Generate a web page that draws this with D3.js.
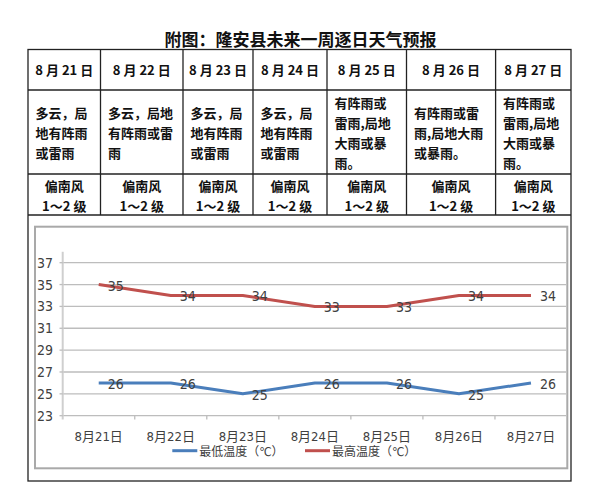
<!DOCTYPE html>
<html><head><meta charset="utf-8">
<script src="https://cdn.jsdelivr.net/npm/d3@7/dist/d3.min.js"></script>
<style>
html,body{margin:0;padding:0;background:#fff;}
svg{display:block;}
</style>
</head><body>
<svg id="c" width="604" height="500"></svg>
<script>
// ---------- data ----------
const dates = ["8月21日","8月22日","8月23日","8月24日","8月25日","8月26日","8月27日"];
const weather = [
  ["多云，局","地有阵雨","或雷雨"],
  ["多云，局地","有阵雨或雷","雨"],
  ["多云，局","地有阵雨","或雷雨"],
  ["多云，局","地有阵雨","或雷雨"],
  ["有阵雨或","雷雨,局地","大雨或暴","雨。"],
  ["有阵雨或雷","雨,局地大雨","或暴雨。"],
  ["有阵雨或","雷雨,局地","大雨或暴","雨。"]
];
const windDir = ["偏南风","偏南风","偏南风","偏南风","偏南风","偏南风","偏南风"];
const windLevel = ["1～2 级","1～2 级","1～2 级","1～2 级","1～2 级","1～2 级","1～2 级"];
const lowTemps = [26,26,25,26,26,25,26];
const highTemps = [35,34,34,33,33,34,34];
const yTicks = [23,25,27,29,31,33,35,37];
const seriesNames = ["最低温度（℃）","最高温度（℃）"];
const title = "附图：隆安县未来一周逐日天气预报";

// ---------- layout ----------
const svg = d3.select("#c");
const colEdges = [28,100.5,183,253,327,406.5,495.6,571];
const rowEdges = [49.5,90,174,215,481];
const cjk = "'Noto Sans CJK SC','Noto Sans',sans-serif";
const narrow = "'Liberation Sans Narrow','DejaVu Sans Condensed','Noto Sans CJK SC',sans-serif";

// title
svg.append("text").attr("x",300.5).attr("y",38).attr("text-anchor","middle")
  .attr("dominant-baseline","central").attr("font-family",cjk).attr("font-weight","bold")
  .attr("font-size",17).attr("fill","#111").text(title);

// table lines
const tbl = svg.append("g").attr("stroke","#222").attr("stroke-width",1.3).attr("fill","none");
tbl.append("rect").attr("x",colEdges[0]).attr("y",rowEdges[0])
  .attr("width",colEdges[7]-colEdges[0]).attr("height",rowEdges[4]-rowEdges[0]);
[1,2,3].forEach(r=>tbl.append("line").attr("x1",colEdges[0]).attr("x2",colEdges[7])
  .attr("y1",rowEdges[r]).attr("y2",rowEdges[r]));
for(let c=1;c<7;c++) tbl.append("line").attr("x1",colEdges[c]).attr("x2",colEdges[c])
  .attr("y1",rowEdges[0]).attr("y2",rowEdges[3]);

const tt = svg.append("g").attr("font-family",cjk).attr("font-weight","bold")
  .attr("font-size",13).attr("fill","#111");
dates.forEach((d,i)=>{
  const cx=(colEdges[i]+colEdges[i+1])/2;
  tt.append("text").attr("x",cx).attr("y",69.5).attr("text-anchor","middle")
    .attr("dominant-baseline","central").text(d.replace(/(\d+)/g," $1 ").trim());
  const lines = weather[i];
  const midY=(rowEdges[1]+rowEdges[2])/2, lh=20;
  lines.forEach((ln,j)=>{
    tt.append("text").attr("x",colEdges[i]+7.5)
      .attr("y",midY+(j-(lines.length-1)/2)*lh).attr("dominant-baseline","central").text(ln);
  });
  tt.append("text").attr("x",cx).attr("y",185).attr("text-anchor","middle")
    .attr("dominant-baseline","central").text(windDir[i]);
  tt.append("text").attr("x",cx).attr("y",205).attr("text-anchor","middle")
    .attr("dominant-baseline","central").text(windLevel[i]);
});

// chart frame
svg.append("rect").attr("x",35).attr("y",226.7).attr("width",532.3).attr("height",241.6)
  .attr("fill","#fff").attr("stroke","#a9a9a9").attr("stroke-width",2);

// scales
const x = d3.scaleBand().domain(dates).range([62.7,567]);
const y = d3.scaleLinear().domain([23,38]).range([415.7,415.7-15*(415.7-262.7)/14]);

// gridlines
const g = svg.append("g");
g.selectAll("line.grid").data(yTicks).join("line").attr("class","grid")
  .attr("x1",62.7).attr("x2",566).attr("y1",d=>y(d)).attr("y2",d=>y(d))
  .attr("stroke","#bdbdbd").attr("stroke-width",1.3);
// y axis line
g.append("line").attr("x1",62.7).attr("x2",62.7).attr("y1",y(38)).attr("y2",419.5)
  .attr("stroke","#cfcfcf").attr("stroke-width",2);
// y ticks
g.selectAll("line.yt").data(yTicks).join("line").attr("class","yt")
  .attr("x1",59.5).attr("x2",62.7).attr("y1",d=>y(d)).attr("y2",d=>y(d))
  .attr("stroke","#bdbdbd").attr("stroke-width",1.3);
g.selectAll("text.yl").data(yTicks).join("text").attr("class","yl")
  .attr("x",53).attr("y",d=>y(d)).attr("text-anchor","end").attr("dominant-baseline","central")
  .attr("font-family",narrow).attr("font-size",14).attr("fill","#404040").text(d=>d);
// x ticks
g.selectAll("line.xt").data(dates.slice(1)).join("line").attr("class","xt")
  .attr("x1",d=>x(d)).attr("x2",d=>x(d)).attr("y1",y(23)).attr("y2",419.5)
  .attr("stroke","#bdbdbd").attr("stroke-width",1.3);
g.selectAll("text.xl").data(dates).join("text").attr("class","xl")
  .attr("x",d=>x(d)+x.bandwidth()/2).attr("y",436.7).attr("text-anchor","middle")
  .attr("dominant-baseline","central").attr("font-family",narrow).attr("font-size",13)
  .attr("fill","#404040").text(d=>d);

// lines
const colors = ["#4a7ebb","#c0504d"];
const series = [lowTemps, highTemps];
const line = d3.line().x((d,i)=>x(dates[i])+x.bandwidth()/2).y(d=>y(d));
series.forEach((s,k)=>{
  g.append("path").datum(s).attr("d",line).attr("fill","none")
    .attr("stroke",colors[k]).attr("stroke-width",3).attr("stroke-linejoin","round");
});
series.forEach((s,k)=>{
  g.selectAll("text.dl"+k).data(s).join("text").attr("class","dl"+k)
    .attr("x",(d,i)=>x(dates[i])+x.bandwidth()/2+17).attr("y",d=>y(d)+1)
    .attr("text-anchor","middle").attr("dominant-baseline","central")
    .attr("font-family",narrow).attr("font-size",14).attr("fill","#404040").text(d=>d);
});

// legend
const legX = [172.3, 305];
seriesNames.forEach((n,k)=>{
  g.append("line").attr("x1",legX[k]).attr("x2",legX[k]+25).attr("y1",450.7).attr("y2",450.7)
    .attr("stroke",colors[k]).attr("stroke-width",3);
  g.append("text").attr("x",legX[k]+27).attr("y",451.7).attr("dominant-baseline","central")
    .attr("font-family",narrow).attr("font-size",12).attr("fill","#404040").text(n);
});
</script>
</body></html>
